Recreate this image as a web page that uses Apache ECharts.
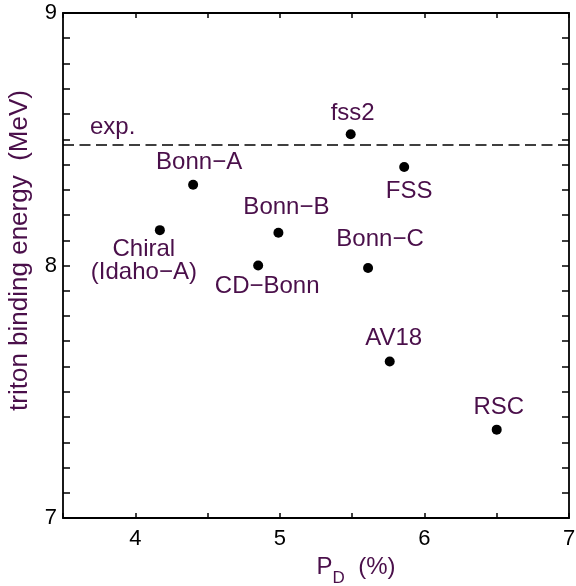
<!DOCTYPE html>
<html>
<head>
<meta charset="utf-8">
<script src="https://cdn.jsdelivr.net/npm/echarts@6/dist/echarts.min.js"></script>
<style>html,body{margin:0;padding:0;background:#fff;}#c{width:576px;height:586px;}</style>
</head>
<body>
<div id="c"></div>
<script>
// data
const models = ['fss2', 'FSS', 'Bonn\u2212A', 'Chiral\n(Idaho\u2212A)', 'Bonn\u2212B', 'CD\u2212Bonn', 'Bonn\u2212C', 'AV18', 'RSC'];
const pD = [5.49, 5.86, 4.40, 4.17, 4.99, 4.85, 5.61, 5.76, 6.50];
const tritonBE = [8.52, 8.39, 8.32, 8.14, 8.13, 8.00, 7.99, 7.62, 7.35];
const expBE = 8.48;
const xTicks = [4, 5, 6, 7];
const yTicks = [7, 8, 9];

// label placement (style only)
const labelOffsets = [[2, -21], [5, 24], [6, -22], [-16, 31], [8, -25], [9, 21], [12, -29], [4, -23], [2, -22]];

const purple = '#4a0f4a';
const FONT = '"Liberation Sans", Arial, Helvetica, sans-serif';
const isTick = (arr) => (v) => arr.some(t => Math.abs(t - v) < 1e-6) ? String(Math.round(v)) : '';

const pts = models.map((m, i) => ({
  name: m,
  value: [pD[i], tritonBE[i]],
  label: { offset: labelOffsets[i] }
}));

const chart = echarts.init(document.getElementById('c'), null, { renderer: 'canvas' });
const axisLineStyle = { color: '#000', width: 1.8 };
chart.setOption({
  backgroundColor: '#fff',
  animation: false,
  textStyle: { fontFamily: FONT },
  grid: { left: 63, top: 13, right: 7, bottom: 68, containLabel: false, outerBoundsMode: 'none' },
  xAxis: [
    {
      type: 'value', min: 3.5, max: 7, interval: 0.5, position: 'bottom',
      axisLine: { show: true, lineStyle: axisLineStyle },
      axisTick: { show: true, inside: true, length: 5, lineStyle: { color: '#000', width: 1.5 } },
      axisLabel: { formatter: isTick(xTicks), color: '#000', fontSize: 22, margin: 10, fontFamily: FONT },
      splitLine: { show: false },
      name: '{p|P}{s|D}{p|  (%)}',
      nameLocation: 'middle', nameGap: 35,
      nameTextStyle: {
        padding: [0, 0, 0, 80],
        rich: {
          p: { fontSize: 24, color: purple, fontFamily: FONT, lineHeight: 28 },
          s: { fontSize: 17, color: purple, fontFamily: FONT, verticalAlign: 'bottom', lineHeight: 16, padding: [0, 0, -6, 0] }
        }
      }
    },
    {
      type: 'value', min: 3.5, max: 7, interval: 0.5, position: 'top',
      axisLine: { show: true, lineStyle: axisLineStyle },
      axisTick: { show: true, inside: true, length: 5, lineStyle: { color: '#000', width: 1.5 } },
      axisLabel: { show: false },
      splitLine: { show: false }
    }
  ],
  yAxis: [
    {
      type: 'value', min: 7, max: 9, interval: 0.1, position: 'left',
      axisLine: { show: true, lineStyle: axisLineStyle },
      axisTick: { show: true, inside: true, length: 7, lineStyle: { color: '#000', width: 1.5 } },
      axisLabel: { formatter: isTick(yTicks), color: '#000', fontSize: 22, margin: 6, fontFamily: FONT },
      splitLine: { show: false },
      name: 'triton binding energy  (MeV)',
      nameLocation: 'middle', nameGap: 30,
      nameTextStyle: { fontSize: 26, color: purple, fontFamily: FONT, padding: [0, 0, 0, 30] }
    },
    {
      type: 'value', min: 7, max: 9, interval: 0.1, position: 'right',
      axisLine: { show: true, lineStyle: axisLineStyle },
      axisTick: { show: true, inside: true, length: 7, lineStyle: { color: '#000', width: 1.5 } },
      axisLabel: { show: false },
      splitLine: { show: false }
    }
  ],
  series: [
    {
      type: 'scatter',
      xAxisIndex: 0, yAxisIndex: 0,
      symbol: 'circle', symbolSize: 10,
      itemStyle: { color: '#000', opacity: 1 },
      label: {
        show: true, position: 'inside', formatter: '{b}', opacity: 1,
        color: purple, fontSize: 24, fontFamily: FONT, lineHeight: 23, align: 'center'
      },
      emphasis: { disabled: true },
      data: pts,
      markLine: {
        silent: true, symbol: 'none', animation: false,
        lineStyle: { color: '#000', type: [11, 5.5], width: 1.6, opacity: 1 },
        label: {
          show: true, position: 'insideStartTop', formatter: '{b}',
          color: purple, fontSize: 24, fontFamily: FONT, distance: 5, padding: [0, 0, 0, 22]
        },
        emphasis: { disabled: true },
        data: [{ name: 'exp.', yAxis: expBE }]
      }
    }
  ]
});
</script>
</body>
</html>
